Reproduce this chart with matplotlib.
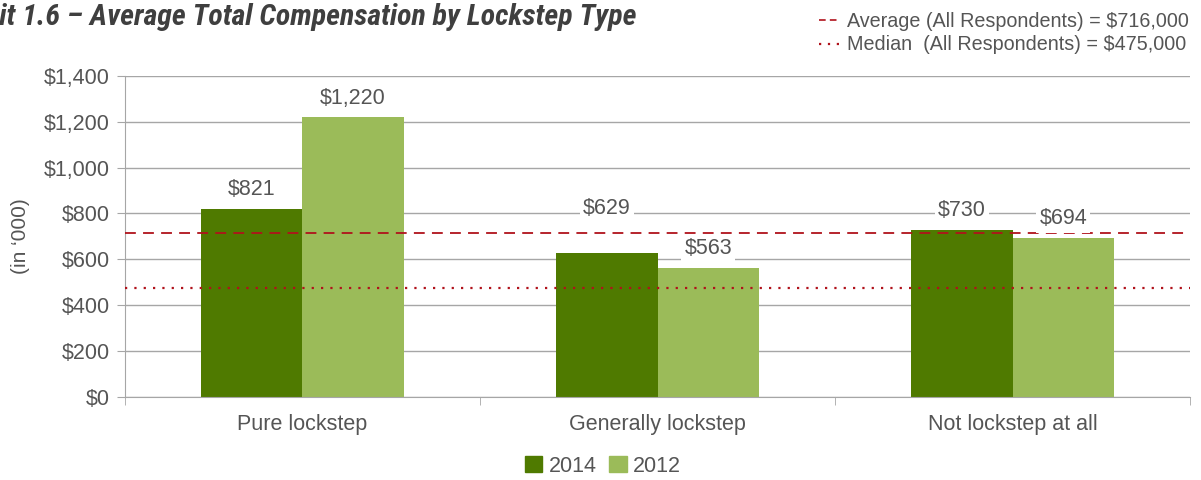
import matplotlib.pyplot as plt
import numpy as np
from matplotlib.lines import Line2D
from matplotlib.patches import Patch

categories = ["Pure lockstep", "Generally lockstep", "Not lockstep at all"]
v2014 = [821, 629, 730]
v2012 = [1220, 563, 694]
avg_all = 716
med_all = 475
yticks = [0, 200, 400, 600, 800, 1000, 1200, 1400]

dark = "#4F7A00"
light = "#9BBB59"
red = "#B0121B"
txt = "#555555"
grid = "#A6A6A6"

plt.rcParams['font.family'] = ['Liberation Sans', 'DejaVu Sans']

fig = plt.figure(figsize=(12.01, 4.8), dpi=100)
ax = fig.add_axes([0.104, 0.173, 0.887, 0.669])

x = np.arange(len(categories))
w = 0.285
b1 = ax.bar(x - w/2, v2014, w, color=dark, zorder=2)
b2 = ax.bar(x + w/2, v2012, w, color=light, zorder=2)

ax.axhline(avg_all, color=red, lw=1.3, ls=(0, (6, 4)), zorder=3)
ax.axhline(med_all, color=red, lw=1.6, ls=(0, (1, 3.2)), zorder=3)

# value labels, white box breaks the gridlines; $629 sits above the average line
extra = {(1, 0): 18}
for j, bars in enumerate([b1, b2]):
    for i, r in enumerate(bars):
        v = r.get_height()
        ax.annotate("${:,}".format(int(v)), (r.get_x() + r.get_width()/2, v),
                    xytext=(0, 6 + extra.get((i, j), 0)), textcoords="offset points",
                    ha="center", va="bottom", fontsize=15.5, color=txt, zorder=4,
                    bbox=dict(boxstyle="square,pad=0.15", fc="white", ec="none"))

ax.set_xlim(-0.5, 2.5)
ax.set_ylim(0, 1400)
ax.set_yticks(yticks)
ax.set_yticklabels(["${:,}".format(t) for t in yticks])
ax.set_xticks(x)
ax.set_xticklabels(categories)
ax.set_xticks([-0.5, 0.5, 1.5, 2.5], minor=True)
ax.tick_params(axis="x", which="major", length=0, pad=12)
ax.tick_params(axis="x", which="minor", length=6, color=grid, direction="out")
ax.tick_params(axis="y", length=6, color=grid, pad=5)
ax.tick_params(labelsize=15.5, labelcolor=txt)
ax.grid(axis="y", color=grid, lw=1, zorder=0)
for s in ["top", "right"]:
    ax.spines[s].set_visible(False)
for s in ["left", "bottom"]:
    ax.spines[s].set_color(grid)
ax.set_ylabel("(in \u2018000)", fontsize=15, color=txt, labelpad=10)

fig.text(637/1201, 1 - 17/480, "Exhibit 1.6 \u2013 Average Total Compensation by Lockstep Type",
         ha="right", va="center", fontsize=21.5, fontweight="bold", fontstyle="italic",
         color="#3F3F3F",
         family=['Roboto Condensed', 'Liberation Sans Narrow', 'Liberation Sans', 'DejaVu Sans'])

top_handles = [Line2D([], [], color=red, lw=1.2, ls=(0, (4, 2.5))),
               Line2D([], [], color=red, lw=1.6, ls=(0, (1, 3)))]
fig.legend(top_handles, ["Average (All Respondents) = $716,000",
                         "Median  (All Respondents) = $475,000"],
           loc="upper right", bbox_to_anchor=(1.005, 1.013), frameon=False,
           fontsize=14.2, labelcolor=txt, handlelength=1.1, handletextpad=0.35,
           labelspacing=0.25)

fig.legend([Patch(color=dark), Patch(color=light)], ["2014", "2012"],
           loc="center", bbox_to_anchor=(0.502, 1 - 466/480), ncol=2, frameon=False,
           fontsize=15.5, labelcolor=txt, handlelength=0.8, handleheight=0.8,
           handletextpad=0.3, columnspacing=0.6)

fig.savefig("out.png", dpi=100)
